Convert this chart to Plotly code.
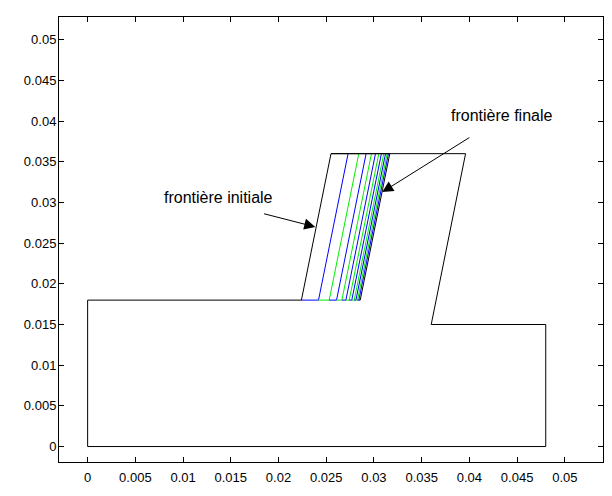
import plotly.graph_objects as go

# Main domain outline (initial boundary included)
domain_x = [0, 0.0224, 0.0255, 0.0396, 0.036, 0.048, 0.048, 0, 0]
domain_y = [0.018, 0.018, 0.036, 0.036, 0.015, 0.015, 0, 0, 0.018]

# Successive boundary positions (bottom at y=0.018, top at y=0.036)
bound_bottom_x = [0.0224, 0.02419, 0.02531, 0.02608, 0.02664, 0.02706, 0.02741,
                  0.02768, 0.02793, 0.02811, 0.02828, 0.02842, 0.02856]
bound_top_x = [0.0255, 0.02729, 0.02841, 0.02918, 0.02974, 0.03016, 0.03051,
               0.03078, 0.03103, 0.03121, 0.03138, 0.03152, 0.03166]
bound_colors = ["black", "blue", "#00ee00", "blue", "#00ee00", "blue", "#00ee00",
                "blue", "#00ee00", "blue", "#00ee00", "blue", "black"]
y_bottom = 0.018
y_top = 0.036

tick_vals = [0, 0.005, 0.01, 0.015, 0.02, 0.025, 0.03, 0.035, 0.04, 0.045, 0.05]
tick_text = ["0", "0.005", "0.01", "0.015", "0.02", "0.025", "0.03", "0.035",
             "0.04", "0.045", "0.05"]

fig = go.Figure()

for k in range(1, len(bound_bottom_x)):
    fig.add_trace(go.Scatter(
        x=[bound_bottom_x[k - 1], bound_bottom_x[k], bound_top_x[k]],
        y=[y_bottom, y_bottom, y_top],
        mode="lines", line=dict(color=bound_colors[k], width=1),
        showlegend=False, hoverinfo="skip"))

fig.add_trace(go.Scatter(x=domain_x, y=domain_y, mode="lines",
                         line=dict(color="black", width=1),
                         showlegend=False, hoverinfo="skip"))
fig.add_trace(go.Scatter(x=[bound_top_x[0], bound_top_x[-1]], y=[y_top, y_top],
                         mode="lines", line=dict(color="black", width=1),
                         showlegend=False, hoverinfo="skip"))

font = dict(family="Liberation Sans, Arial, sans-serif", size=13, color="black")
ann_font = dict(family="Liberation Sans, Arial, sans-serif", size=16, color="black")

# arrows
fig.add_annotation(x=0.02385, y=0.0270, ax=0.01833, ay=0.02866,
                   xref="x", yref="y", axref="x", ayref="y", text="",
                   showarrow=True, arrowhead=2, arrowsize=2.2, arrowwidth=1,
                   arrowcolor="black")
fig.add_annotation(x=0.03087, y=0.03128, ax=0.04015, ay=0.03809,
                   xref="x", yref="y", axref="x", ayref="y", text="",
                   showarrow=True, arrowhead=2, arrowsize=2.2, arrowwidth=1,
                   arrowcolor="black")
fig.add_annotation(x=0.01369, y=0.03067, text="frontière initiale",
                   showarrow=False, font=ann_font, xref="x", yref="y")
fig.add_annotation(x=0.04333, y=0.04064, text="frontière finale",
                   showarrow=False, font=ann_font, xref="x", yref="y")

axis_common = dict(showgrid=False, zeroline=False, showline=True,
                   linecolor="black", linewidth=1, mirror="ticks",
                   ticks="inside", ticklen=5, tickcolor="black",
                   tickvals=tick_vals, ticktext=tick_text,
                   tickfont=font, automargin=False)

fig.update_layout(
    width=612, height=496,
    margin=dict(l=59, r=9, t=17, b=34),
    paper_bgcolor="white", plot_bgcolor="white",
    xaxis=dict(range=[-0.003, 0.054], ticklabelstandoff=3, **axis_common),
    yaxis=dict(range=[-0.0019, 0.0528], ticklabelstandoff=-1, **axis_common),
)

fig.write_html("out.html",
               config={"displayModeBar": False},
               post_script="document.body.style.margin='0';"
                           "document.body.style.overflow='hidden';")
